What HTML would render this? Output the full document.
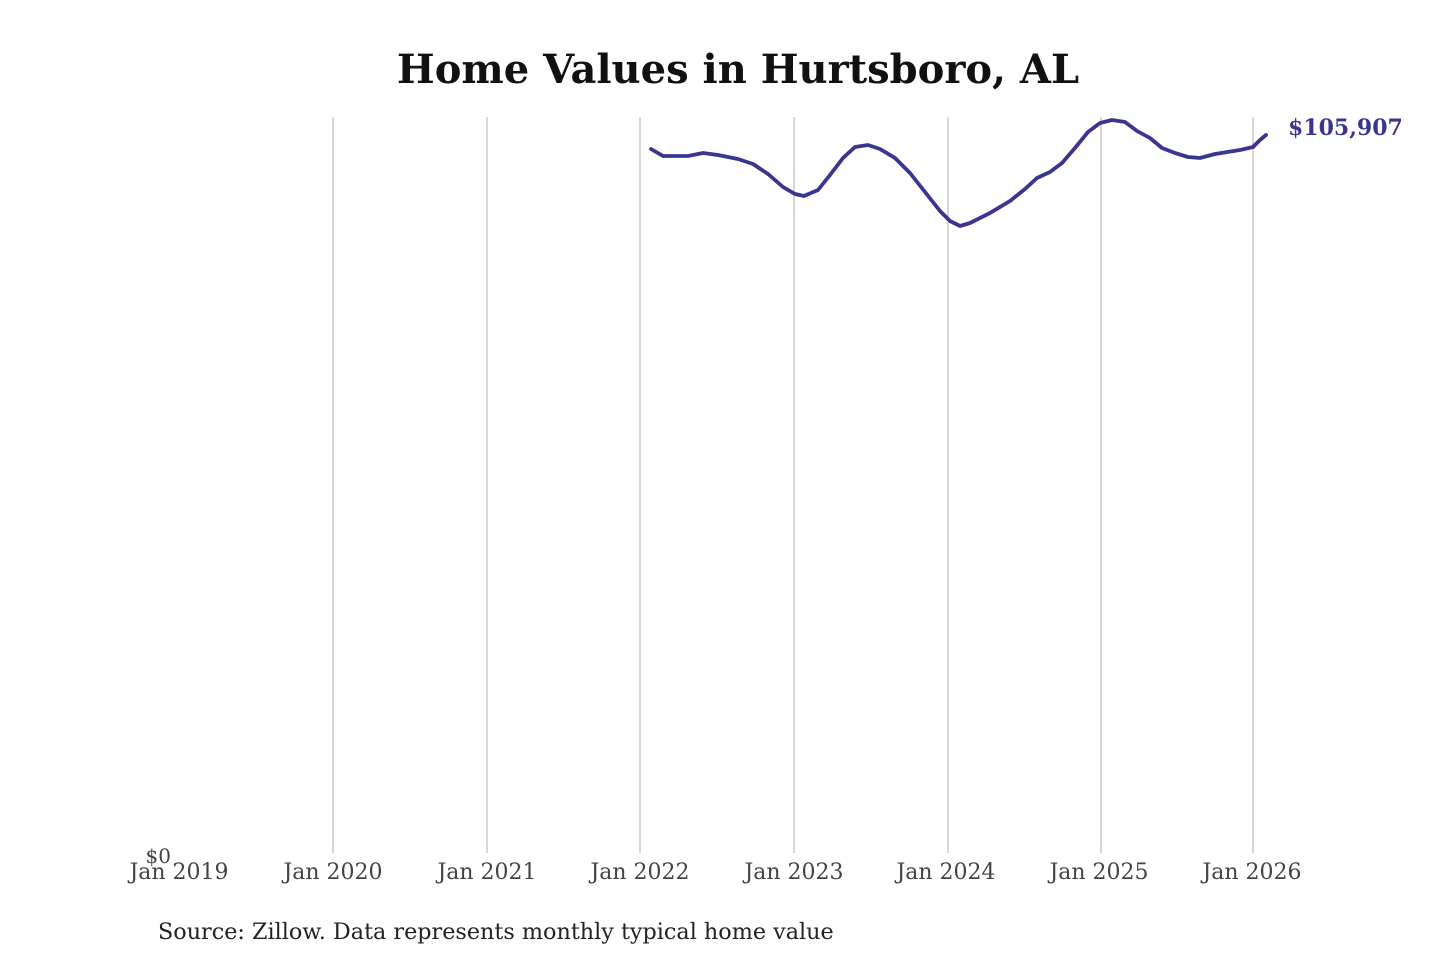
<!DOCTYPE html>
<html><head><meta charset="utf-8"><style>
html,body{margin:0;padding:0;background:#fff;}
svg{display:block;}
text{font-family:"DejaVu Serif","Liberation Serif",serif;}
</style></head><body>
<svg width="1440" height="960" viewBox="0 0 1440 960">
<text x="738" y="83" text-anchor="middle" font-size="40" font-weight="bold" fill="#111">Home Values in Hurtsboro, AL</text>
<g stroke="#c4c4c4" stroke-width="1.3">
<line x1="333" y1="117" x2="333" y2="853"/>
<line x1="487" y1="117" x2="487" y2="853"/>
<line x1="640" y1="117" x2="640" y2="853"/>
<line x1="794" y1="117" x2="794" y2="853"/>
<line x1="948" y1="117" x2="948" y2="853"/>
<line x1="1101" y1="117" x2="1101" y2="853"/>
<line x1="1253" y1="117" x2="1253" y2="853"/>
</g>
<g font-size="22" fill="#444" text-anchor="middle">
<text x="179" y="879">Jan 2019</text>
<text x="333" y="879">Jan 2020</text>
<text x="487" y="879">Jan 2021</text>
<text x="640" y="879">Jan 2022</text>
<text x="794" y="879">Jan 2023</text>
<text x="946" y="879">Jan 2024</text>
<text x="1099" y="879">Jan 2025</text>
<text x="1252" y="879">Jan 2026</text>
</g>
<text x="171" y="863" font-size="20" fill="#444" text-anchor="end">$0</text>
<polyline fill="none" stroke="#3a3590" stroke-width="3.8" stroke-linejoin="round" stroke-linecap="round" points="651,149 663,156 688,156 703,153 718,155 738,159 753,164 768,174 783,187 795,194 804,196 818,190 830,175 843,158 855,147 868,145 880,149 895,158 910,173 925,192 940,211 950,221 960,226 970,223 990,213 1010,201 1025,189 1037,178 1050,172 1062,163 1075,148 1088,132 1100,123 1112,120 1125,122 1137,131 1150,138 1162,148 1175,153 1188,157 1200,158 1215,154 1240,150 1253,147 1260,140 1266,135"/>
<text x="1288" y="135" font-size="22" font-weight="bold" fill="#3a3590">$105,907</text>
<text x="158" y="939" font-size="22.3" fill="#222">Source: Zillow. Data represents monthly typical home value</text>
</svg>
</body></html>
